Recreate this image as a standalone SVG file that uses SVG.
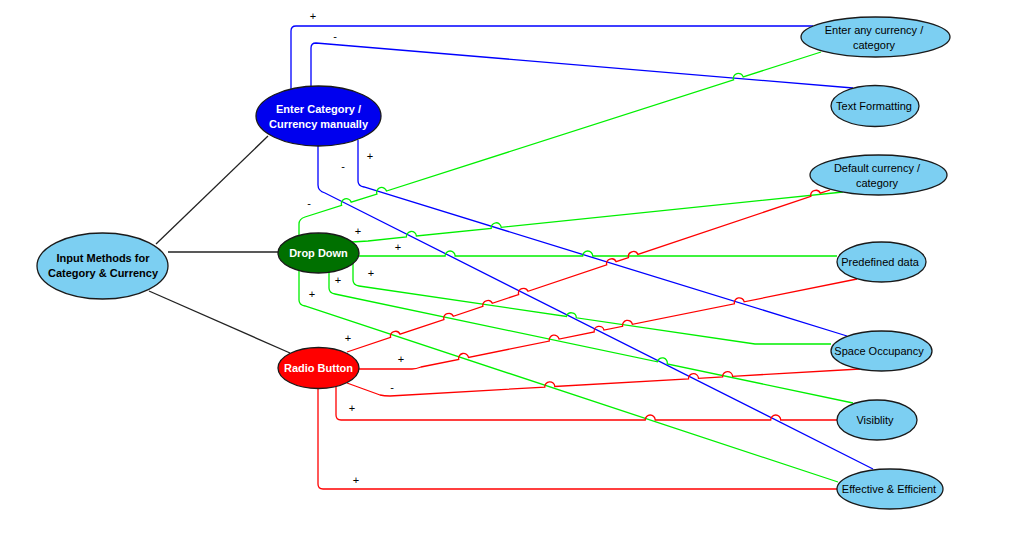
<svg xmlns="http://www.w3.org/2000/svg" width="1014" height="534" viewBox="0 0 1014 534">
<style>
.bg{fill:#ffffff}
.c{fill:none;stroke-width:1.3}
.k{stroke:#222222}
.b{stroke:#0000ff}
.g{stroke:#00f000}
.r{stroke:#ff0000}
.n{stroke:#1a1a1a;stroke-width:1.3}
.lb{fill:#7ccff2}
.t{font-family:"Liberation Sans",Arial,sans-serif;font-size:11px;text-anchor:middle;dominant-baseline:central}
.tb{font-weight:bold}
.w{fill:#ffffff}
.d{fill:#000000}
.s{font-family:"Liberation Sans",Arial,sans-serif;font-size:11px;text-anchor:middle;dominant-baseline:central;fill:#000000}
</style>
<rect class="bg" x="0" y="0" width="1014" height="534"/>
<g id="connectors">
<path class="c k" d="M156,244 L268,136"/>
<path class="c k" d="M168,252 L278,252"/>
<path class="c k" d="M149,291 L290,353"/>
<path class="c b" d="M291,90 V31 Q291,26 296,26 H813"/>
<path class="c b" d="M311,87 V48 Q311,43 316,43 L853,88"/>
<path class="c b" d="M318,146 V185 Q318,191 325,193 L873,469"/>
<path class="c b" d="M358,140 V181 Q358,186 364,187 L847,336"/>
<path class="c g" d="M299,235 V224 Q299,219 305,217 L341.6,205.3 A5,5 0 0 1 351.2,202.2 L376.9,194 A5,5 0 0 1 386.5,191 L733.6,79.9 A5,5 0 0 1 743.2,76.9 L821,52"/>
<path class="c g" d="M352,242 L368,241 L406.4,237 A5,5 0 0 1 416.4,236 L491.2,228.3 A5,5 0 0 1 501.2,227.3 L843,192"/>
<path class="c g" d="M359,256 H445.1 A5,5 0 0 1 455.1,256 H582.7 A5,5 0 0 1 592.7,256 H837"/>
<path class="c g" d="M353,263 V280 Q353,285 359,286 L566.5,316.4 A5,5 0 0 1 576.3,317.8 L755,344 H831"/>
<path class="c g" d="M329,272 V288 Q329,293 335,294 L657.4,361.8 A5,5 0 0 1 667.2,363.9 L853,403"/>
<path class="c g" d="M299,270 V300 Q299,305 305,306 L838,482"/>
<path class="c r" d="M347,352 L390.6,337.4 A5,5 0 0 1 400,334.2 L443.9,319.5 A5,5 0 0 1 453.3,316.3 L482.9,306.4 A5,5 0 0 1 492.3,303.3 L518.6,294.5 A5,5 0 0 1 528,291.3 L606.7,264.9 A5,5 0 0 1 616.1,261.7 L628.5,257.6 A5,5 0 0 1 637.9,254.4 L810.9,196.4 A5,5 0 0 1 820.3,193.2 L830,190"/>
<path class="c r" d="M359,369 H412 Q416,369 421,367 L458.7,359.4 A5,5 0 0 1 468.5,357.4 L549.3,341.1 A5,5 0 0 1 559.1,339.1 L594.2,332 A5,5 0 0 1 604,330.1 L622.6,326.3 A5,5 0 0 1 632.4,324.3 L734.4,303.8 A5,5 0 0 1 744.2,301.8 L857,279"/>
<path class="c r" d="M347,383 L380,395 Q384,396 390,396 L544.8,387.1 A5,5 0 0 1 554.8,386.5 L688.5,378.9 A5,5 0 0 1 698.5,378.3 L722.6,376.9 A5,5 0 0 1 732.6,376.3 L860,369"/>
<path class="c r" d="M336,387 V415 Q336,420 341,420 H645.2 A5,5 0 0 1 655.2,420 H770.7 A5,5 0 0 1 780.7,420 H837"/>
<path class="c r" d="M318,388 V484 Q318,489 323,489 H837"/>
<text class="s" x="313" y="16">+</text>
<text class="s" x="335" y="36">-</text>
<text class="s" x="343" y="166">-</text>
<text class="s" x="370" y="156">+</text>
<text class="s" x="309" y="203">-</text>
<text class="s" x="358" y="231">+</text>
<text class="s" x="398" y="247">+</text>
<text class="s" x="371" y="273">+</text>
<text class="s" x="338" y="280">+</text>
<text class="s" x="312" y="294">+</text>
<text class="s" x="348" y="338">+</text>
<text class="s" x="401" y="359">+</text>
<text class="s" x="392" y="387">-</text>
<text class="s" x="352" y="408">+</text>
<text class="s" x="356" y="480">+</text>
</g>
<g id="input-methods">
<ellipse class="n lb" cx="102.5" cy="266" rx="65.5" ry="33"/>
<text class="t tb d" x="103" y="258">Input Methods for</text>
<text class="t tb d" x="103" y="273">Category &amp; Currency</text>
</g>
<g id="enter-manually">
<ellipse class="n" fill="#0000ee" cx="318.5" cy="116" rx="62.5" ry="30"/>
<text class="t tb w" x="318.5" y="109">Enter Category /</text>
<text class="t tb w" x="318.5" y="124">Currency manually</text>
</g>
<g id="drop-down">
<ellipse class="n" fill="#007000" cx="318.5" cy="253" rx="40.5" ry="20"/>
<text class="t tb w" x="318.5" y="253">Drop Down</text>
</g>
<g id="radio-button">
<ellipse class="n" fill="#ff0000" cx="318.5" cy="368" rx="40.5" ry="20.5"/>
<text class="t tb w" x="318.5" y="368">Radio Button</text>
</g>
<g id="enter-any">
<ellipse class="n lb" cx="875.5" cy="37" rx="74.5" ry="20"/>
<text class="t d" x="874" y="30">Enter any currency /</text>
<text class="t d" x="874" y="45">category</text>
</g>
<g id="text-formatting">
<ellipse class="n lb" cx="875" cy="106" rx="44" ry="20.5"/>
<text class="t d" x="874" y="106">Text Formatting</text>
</g>
<g id="default-currency">
<ellipse class="n lb" cx="878.5" cy="175" rx="68.5" ry="20"/>
<text class="t d" x="877" y="168">Default currency /</text>
<text class="t d" x="877" y="183">category</text>
</g>
<g id="predefined-data">
<ellipse class="n lb" cx="881.5" cy="262" rx="44.5" ry="20"/>
<text class="t d" x="880" y="262">Predefined data</text>
</g>
<g id="space-occupancy">
<ellipse class="n lb" cx="881.5" cy="351" rx="50.5" ry="20"/>
<text class="t d" x="879" y="351">Space Occupancy</text>
</g>
<g id="visiblity">
<ellipse class="n lb" cx="877" cy="420" rx="40" ry="20"/>
<text class="t d" x="875" y="420">Visiblity</text>
</g>
<g id="effective-efficient">
<ellipse class="n lb" cx="890" cy="489" rx="53" ry="20"/>
<text class="t d" x="889" y="489">Effective &amp; Efficient</text>
</g>
</svg>
